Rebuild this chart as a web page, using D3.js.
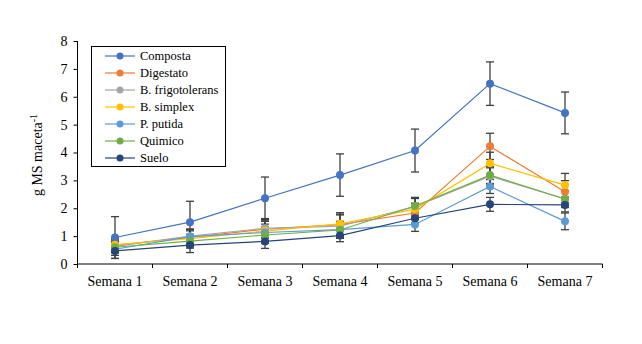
<!DOCTYPE html>
<html><head><meta charset="utf-8">
<script src="https://cdn.jsdelivr.net/npm/d3@7"></script>
<style>body{margin:0;background:#fff}svg{display:block}</style>
</head><body>
<svg id="c" width="642" height="344"></svg>
<script>
const categories = ["Semana 1","Semana 2","Semana 3","Semana 4","Semana 5","Semana 6","Semana 7"];
const seriesNames = ["Composta","Digestato","B. frigotolerans","B. simplex","P. putida","Quimico","Suelo"];
const seriesColors = ["#4472C4","#ED7D31","#A5A5A5","#FFC000","#5B9BD5","#70AD47","#264478"];
const composta   = [0.95, 1.50, 2.36, 3.19, 4.07, 6.47, 5.42];
const digestato  = [0.68, 0.95, 1.25, 1.41, 1.83, 4.22, 2.59];
const frigoto    = [0.63, 1.00, 1.28, 1.36, 2.06, 3.15, 2.33];
const simplex    = [0.69, 0.91, 1.18, 1.44, 1.97, 3.61, 2.83];
const putida     = [0.53, 0.98, 1.13, 1.23, 1.42, 2.78, 1.53];
const quimico    = [0.60, 0.82, 1.04, 1.22, 2.08, 3.19, 2.33];
const suelo      = [0.47, 0.68, 0.81, 1.02, 1.64, 2.14, 2.12];
const errComposta  = [0.75, 0.75, 0.76, 0.76, 0.77, 0.78, 0.75];
const errDigestato = [0.22, 0.30, 0.30, 0.38, 0.35, 0.47, 0.40];
const errFrigoto   = [0.20, 0.25, 0.35, 0.40, 0.33, 0.30, 0.30];
const errSimplex   = [0.20, 0.28, 0.35, 0.40, 0.38, 0.40, 0.42];
const errPutida    = [0.22, 0.25, 0.30, 0.30, 0.25, 0.25, 0.30];
const errQuimico   = [0.20, 0.25, 0.30, 0.30, 0.30, 0.30, 0.30];
const errSuelo     = [0.27, 0.27, 0.25, 0.22, 0.20, 0.25, 0.25];
const yTicks = [0,1,2,3,4,5,6,7,8];

const values = [composta,digestato,frigoto,simplex,putida,quimico,suelo];
const errors = [errComposta,errDigestato,errFrigoto,errSimplex,errPutida,errQuimico,errSuelo];

const svg = d3.select("#c");
const font = "'Liberation Serif','Times New Roman',serif";
const x = d3.scaleBand().domain(categories).range([77.5, 602.5]);
const y = d3.scaleLinear().domain([0, 8]).range([264, 41]);

// y axis
const yAx = svg.append("g").attr("transform","translate(77.5,0)")
  .call(d3.axisLeft(y).tickValues(yTicks).tickSize(4).tickPadding(6).tickFormat(d3.format("d")));
yAx.select(".domain").attr("stroke","#000").attr("d","M0,"+y(8)+"V"+y(0));
yAx.selectAll(".tick line").attr("stroke","#000");
yAx.selectAll("text").attr("font-family",font).attr("font-size","14px").attr("fill","#000");

// x axis with ticks at category boundaries
const xAx = svg.append("g").attr("transform","translate(0,264)");
xAx.append("line").attr("x1",x.range()[0]).attr("x2",x.range()[1]).attr("stroke","#000");
const bounds = categories.map(c => x(c)).concat([x.range()[1]]);
xAx.selectAll(".bt").data(bounds).enter().append("line")
  .attr("x1",d=>d).attr("x2",d=>d).attr("y1",0).attr("y2",4).attr("stroke","#000");
xAx.selectAll(".lbl").data(categories).enter().append("text")
  .attr("x",d=>x(d)+x.bandwidth()/2).attr("y",22)
  .attr("text-anchor","middle").attr("font-family",font).attr("font-size","14px").text(d=>d);

// y label
const yl = svg.append("text").attr("transform","translate(42,155) rotate(-90)")
  .attr("text-anchor","middle").attr("font-family",font).attr("font-size","14px");
yl.append("tspan").text("g MS maceta");
yl.append("tspan").attr("dy","-5").attr("font-size","10px").text("-1");

const cx = i => x(categories[i]) + x.bandwidth()/2;
const line = d3.line().x((d,i)=>cx(i)).y(d=>y(d));

values.forEach((vals, s) => {
  const g = svg.append("g");
  g.append("path").attr("d", line(vals)).attr("fill","none")
    .attr("stroke", seriesColors[s]).attr("stroke-width",1.2);
});
values.forEach((vals, s) => {
  const g = svg.append("g");
  vals.forEach((v,i) => {
    const e = errors[s][i];
    const top = y(v+e), bot = y(Math.max(0,v-e)), X = cx(i);
    g.append("line").attr("x1",X).attr("x2",X).attr("y1",top).attr("y2",bot).attr("stroke","#404040").attr("stroke-width",1.3);
    g.append("line").attr("x1",X-4).attr("x2",X+4).attr("y1",top).attr("y2",top).attr("stroke","#404040").attr("stroke-width",1.3);
    g.append("line").attr("x1",X-4).attr("x2",X+4).attr("y1",bot).attr("y2",bot).attr("stroke","#404040").attr("stroke-width",1.3);
  });
});
values.forEach((vals, s) => {
  svg.append("g").selectAll("circle").data(vals).enter().append("circle")
    .attr("cx",(d,i)=>cx(i)).attr("cy",d=>y(d)).attr("r",4)
    .attr("fill",seriesColors[s]);
});

// legend
const lg = svg.append("g");
lg.append("rect").attr("x",91.5).attr("y",46.5).attr("width",134).attr("height",120)
  .attr("fill","#fff").attr("stroke","#000");
seriesNames.forEach((n,i) => {
  const yy = 56 + i*17;
  lg.append("line").attr("x1",105).attr("x2",135).attr("y1",yy).attr("y2",yy)
    .attr("stroke",seriesColors[i]).attr("stroke-width",1.2);
  lg.append("circle").attr("cx",120).attr("cy",yy).attr("r",3.5).attr("fill",seriesColors[i]);
  lg.append("text").attr("x",140).attr("y",yy+4).attr("font-family",font)
    .attr("font-size","12.5px").text(n);
});
</script>
</body></html>
